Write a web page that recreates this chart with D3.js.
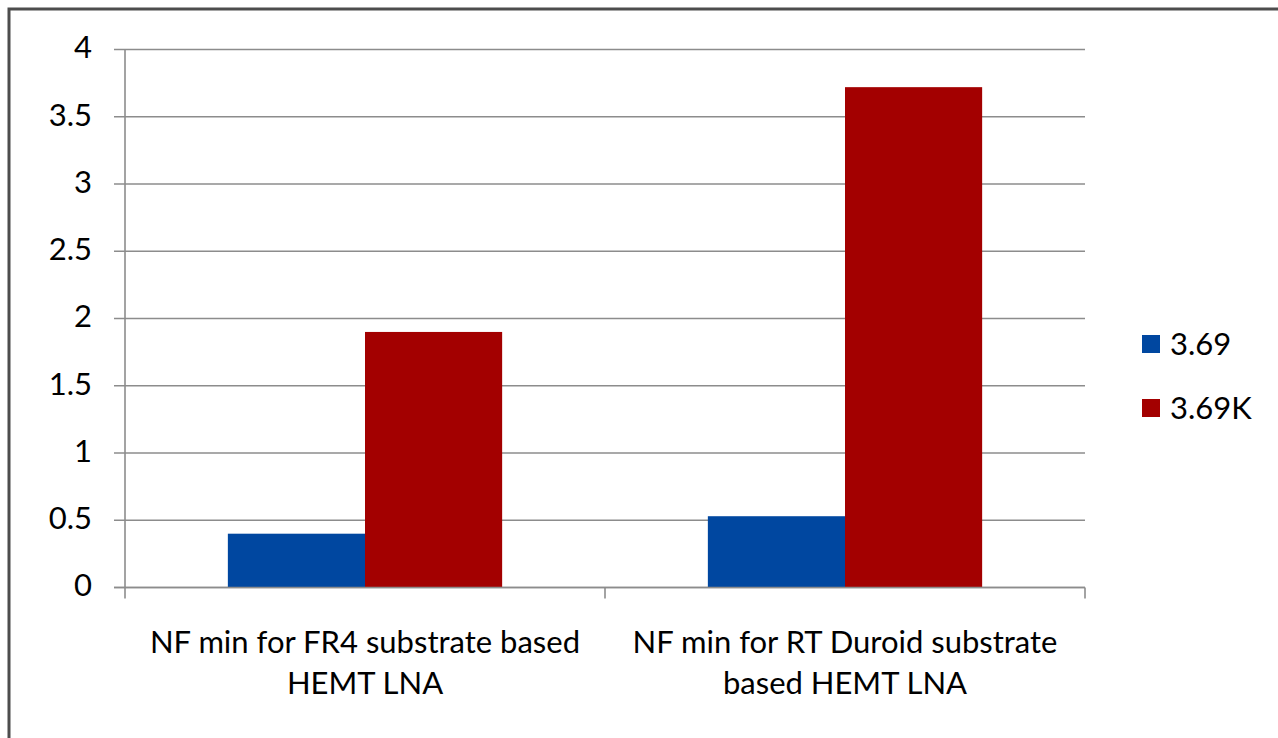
<!DOCTYPE html>
<html>
<head>
<meta charset="utf-8">
<script src="https://cdn.jsdelivr.net/npm/d3@7"></script>
<style>
  html, body { margin: 0; padding: 0; background: #fff; }
  svg { display: block; }
  text { font-family: Lato, "Open Sans", "Noto Sans", sans-serif; fill: #000; }
</style>
</head>
<body>
<svg id="chart" width="1278" height="738"></svg>
<script>
// Minimum noise figure of the HEMT LNA on two substrates
const categories = [
  "NF min for FR4 substrate based HEMT LNA",
  "NF min for RT Duroid substrate based HEMT LNA"
];
const seriesNames = ["3.69", "3.69K"];
const seriesColors = ["#0047A0", "#A30000"];
const values369 = [0.40, 0.53];
const values369K = [1.90, 3.72];
const yTicks = [0, 0.5, 1, 1.5, 2, 2.5, 3, 3.5, 4];

const svg = d3.select("#chart");

// outer frame
svg.append("rect")
  .attr("x", 9).attr("y", 9)
  .attr("width", 1300).attr("height", 760)
  .attr("fill", "none")
  .attr("stroke", "#4d4d4d")
  .attr("stroke-width", 3);

const plot = { left: 125, right: 1085, top: 49.5, bottom: 587.5 };

const x0 = d3.scaleBand()
  .domain(categories)
  .range([plot.left, plot.right])
  .paddingInner(0).paddingOuter(0);

const x1 = d3.scaleBand()
  .domain(seriesNames)
  .range([0, x0.bandwidth()])
  .paddingInner(0).paddingOuter(0.75);

const y = d3.scaleLinear().domain([0, 4]).range([plot.bottom, plot.top]);

const labelFont = 31;

// horizontal gridlines
svg.append("g")
  .selectAll("line")
  .data(yTicks)
  .join("line")
  .attr("x1", plot.left - 11)
  .attr("x2", plot.right)
  .attr("y1", d => y(d))
  .attr("y2", d => y(d))
  .attr("stroke", "#8c8c8c")
  .attr("stroke-width", 1.6);

// y axis line
svg.append("line")
  .attr("x1", plot.left).attr("x2", plot.left)
  .attr("y1", plot.top).attr("y2", plot.bottom + 11)
  .attr("stroke", "#8c8c8c").attr("stroke-width", 1.6);

// category tick marks below the x axis
const catEdges = categories.map(c => x0(c) + x0.bandwidth());
svg.append("g")
  .selectAll("line")
  .data(catEdges)
  .join("line")
  .attr("x1", d => d).attr("x2", d => d)
  .attr("y1", plot.bottom).attr("y2", plot.bottom + 11)
  .attr("stroke", "#8c8c8c").attr("stroke-width", 1.6);

// y tick labels
svg.append("g")
  .selectAll("text")
  .data(yTicks)
  .join("text")
  .attr("x", plot.left - 33)
  .attr("y", d => y(d))
  .attr("dy", "0.29em")
  .attr("text-anchor", "end")
  .attr("font-size", labelFont)
  .text(d => d3.format("")(d));

// bars
const seriesValues = [values369, values369K];
const barData = [];
categories.forEach((c, i) => {
  seriesNames.forEach((s, j) => {
    barData.push({ cat: c, series: s, value: seriesValues[j][i], color: seriesColors[j] });
  });
});

svg.append("g")
  .selectAll("rect")
  .data(barData)
  .join("rect")
  .attr("x", d => x0(d.cat) + x1(d.series))
  .attr("width", x1.bandwidth())
  .attr("y", d => y(d.value))
  .attr("height", d => y(0) - y(d.value))
  .attr("fill", d => d.color);

// x axis line over the bars
svg.append("line")
  .attr("x1", plot.left - 11).attr("x2", plot.right)
  .attr("y1", plot.bottom).attr("y2", plot.bottom)
  .attr("stroke", "#8c8c8c").attr("stroke-width", 1.6);

// category labels, wrapped inside their band
const maxWidth = x0.bandwidth() - 10;
categories.forEach(c => {
  const cx = x0(c) + x0.bandwidth() / 2;
  const t = svg.append("text")
    .attr("text-anchor", "middle")
    .attr("font-size", labelFont);
  const words = c.split(" ");
  const lines = [];
  let line = [];
  const probe = svg.append("text").attr("font-size", labelFont);
  words.forEach(w => {
    line.push(w);
    probe.text(line.join(" "));
    if (probe.node().getComputedTextLength() > maxWidth && line.length > 1) {
      line.pop();
      lines.push(line.join(" "));
      line = [w];
    }
  });
  lines.push(line.join(" "));
  probe.remove();
  lines.forEach((l, k) => {
    t.append("tspan")
      .attr("x", cx)
      .attr("y", 653 + k * 41)
      .text(l);
  });
});

// legend
const legend = svg.append("g");
seriesNames.forEach((s, j) => {
  const ly = 344 + j * 64;
  legend.append("rect")
    .attr("x", 1142).attr("y", ly - 9)
    .attr("width", 18).attr("height", 18)
    .attr("fill", seriesColors[j]);
  legend.append("text")
    .attr("x", 1170).attr("y", ly + 11)
    .attr("font-size", labelFont)
    .text(s);
});
</script>
</body>
</html>
